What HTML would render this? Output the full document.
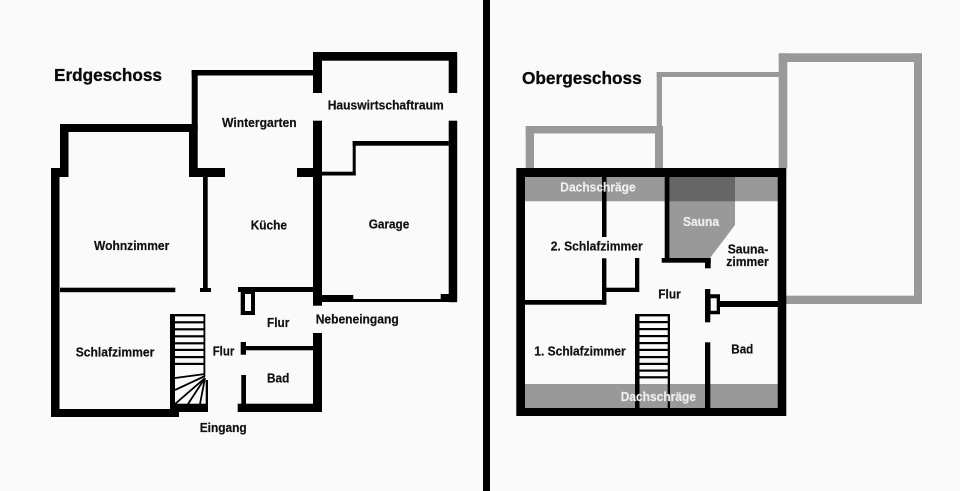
<!DOCTYPE html>
<html><head><meta charset="utf-8"><style>
html,body{margin:0;padding:0;background:#fbfafb}
svg{display:block}
text{font-family:"Liberation Sans",sans-serif;font-weight:bold;font-size:12.6px;fill:#111;stroke:#111;stroke-width:.2px}
.w{fill:#eee;stroke:#eee}
.t{font-size:17.2px;fill:#0a0a0a;stroke:#0a0a0a;stroke-width:.3px}
</style></head><body>
<svg width="960" height="491" viewBox="0 0 960 491" xmlns="http://www.w3.org/2000/svg">
<rect width="960" height="491" fill="#fbfafb"/>
<rect x="483" y="0" width="7" height="491" fill="#000"/>
<!-- Erdgeschoss walls -->
<g fill="#000">
<rect x="60" y="124" width="137" height="8"/>
<rect x="60" y="124" width="8.5" height="53"/>
<rect x="51" y="168" width="17.5" height="9"/>
<rect x="51" y="168" width="8.5" height="249"/>
<rect x="51" y="409" width="128" height="8"/>
<rect x="191.7" y="70" width="6" height="60"/>
<rect x="191.7" y="70" width="125" height="5.5"/>
<rect x="189" y="124" width="8.7" height="53"/>
<rect x="189" y="168" width="36" height="9"/>
<rect x="203" y="177" width="4.7" height="113"/>
<rect x="200" y="288" width="11" height="4"/>
<rect x="60" y="287.7" width="115.3" height="4.5"/>
<rect x="313" y="52" width="144" height="8.7"/>
<rect x="313" y="52" width="9" height="41"/>
<rect x="448.7" y="52" width="8.5" height="41"/>
<rect x="313" y="120.7" width="9" height="185"/>
<rect x="448.7" y="120.7" width="8.5" height="181.5"/>
<rect x="297" y="168" width="25" height="9"/>
<rect x="322" y="171.7" width="33.7" height="3.8"/>
<rect x="352.7" y="141" width="3" height="34.5"/>
<rect x="352.7" y="141" width="96" height="4.7"/>
<rect x="322" y="295" width="31.3" height="7"/>
<rect x="353" y="299" width="88" height="3"/>
<rect x="440.7" y="294" width="8.3" height="8"/>
<rect x="238" y="287" width="76" height="5"/>
<path d="M240.7 290H255V315H240.7ZM245 294V311H251V294Z" fill-rule="evenodd"/>
<rect x="313" y="333" width="9" height="79"/>
<rect x="245" y="346" width="68" height="4.3"/>
<rect x="240.7" y="342" width="5.3" height="12.7"/>
<rect x="241.3" y="375" width="4.7" height="30"/>
<rect x="237.7" y="403.7" width="84.3" height="8.3"/>
<!-- stairs EG -->
<rect x="170" y="314" width="5" height="96"/>
<rect x="170" y="314" width="35" height="2.4"/>
<rect x="203.5" y="314" width="1.8" height="62"/>
<rect x="205.7" y="380" width="2.3" height="25"/>
<rect x="175" y="403.7" width="33" height="8.3"/>
<rect x="175" y="321.2" width="29" height="2.2"/>
<rect x="175" y="328.2" width="29" height="2.2"/>
<rect x="175" y="335.2" width="29" height="2.2"/>
<rect x="175" y="342.2" width="29" height="2.2"/>
<rect x="175" y="348.8" width="29" height="2.2"/>
<rect x="175" y="356" width="29" height="2.2"/>
<rect x="175" y="362.8" width="29" height="2.2"/>
</g>
<g stroke="#000" stroke-width="1.8" fill="none">
<path d="M175 378L205 374M175 390L205 376M175 404L205 378M188 404L205 378M200 404L205 378"/>
</g>
<!-- Obergeschoss grey -->
<g fill="#999">
<rect x="525.7" y="126" width="8.3" height="43"/>
<rect x="525.7" y="126" width="137.3" height="7.5"/>
<rect x="655" y="126" width="8" height="43"/>
<rect x="656.7" y="72" width="5.3" height="55"/>
<rect x="656.7" y="72" width="123" height="5"/>
<rect x="778.7" y="53.3" width="8.6" height="115"/>
<rect x="778.7" y="53.3" width="143.3" height="8.7"/>
<rect x="914" y="53.3" width="8" height="250.7"/>
<rect x="786" y="295.7" width="136" height="8.3"/>
<rect x="525" y="177" width="253" height="24.3"/>
<rect x="525" y="384" width="253" height="24"/>
<polygon points="669,201 735,201 735,225 710,258 669,258"/>
</g>
<rect x="669" y="177" width="66" height="24.3" fill="#666"/>
<g fill="#000">
<path d="M516.3 168H786.3V416H516.3ZM525 177V408H777.7V177Z" fill-rule="evenodd"/>
<rect x="664.7" y="177" width="4.7" height="85"/>
<rect x="661.7" y="258" width="49" height="4.7"/>
<rect x="705" y="258" width="5.7" height="10.3"/>
<rect x="602" y="177" width="4.5" height="60"/>
<rect x="602" y="258.3" width="4.4" height="46.4"/>
<rect x="525" y="300" width="81" height="4.7"/>
<rect x="606" y="287.7" width="33" height="4.3"/>
<rect x="635" y="258" width="4.3" height="34"/>
<rect x="635" y="314" width="4.5" height="94"/>
<rect x="667.7" y="314" width="2.3" height="94"/>
<rect x="635" y="314" width="35" height="2.4"/>
<rect x="639" y="321" width="29" height="2.2"/>
<rect x="639" y="328" width="29" height="2.2"/>
<rect x="639" y="335" width="29" height="2.2"/>
<rect x="639" y="342" width="29" height="2.2"/>
<rect x="639" y="348.8" width="29" height="2.2"/>
<rect x="639" y="356" width="29" height="2.2"/>
<rect x="639" y="362.8" width="29" height="2.2"/>
<rect x="639" y="369.5" width="29" height="2.2"/>
<rect x="639" y="376.2" width="29" height="2.2"/>
<rect x="705" y="289" width="5.3" height="33.3"/>
<path d="M710 294.3H720V314.3H710ZM710.7 298.3V310.7H716.7V298.3Z" fill-rule="evenodd"/>
<rect x="720" y="301" width="58" height="6"/>
<rect x="705" y="342.3" width="5.3" height="66"/>
</g>
<!-- labels -->
<text class="t" x="54" y="81" textLength="108" lengthAdjust="spacingAndGlyphs">Erdgeschoss</text>
<text class="t" x="522" y="84" textLength="119.7" lengthAdjust="spacingAndGlyphs">Obergeschoss</text>
<text x="222" y="127" textLength="74.7" lengthAdjust="spacingAndGlyphs">Wintergarten</text>
<text x="327.7" y="109.3" textLength="116" lengthAdjust="spacingAndGlyphs">Hauswirtschaftraum</text>
<text x="250.7" y="229.3" textLength="36.3" lengthAdjust="spacingAndGlyphs">Küche</text>
<text x="368.7" y="228.7" textLength="40.6" lengthAdjust="spacingAndGlyphs">Garage</text>
<text x="94" y="250" textLength="75.3" lengthAdjust="spacingAndGlyphs">Wohnzimmer</text>
<text x="75.7" y="356.3" textLength="78.6" lengthAdjust="spacingAndGlyphs">Schlafzimmer</text>
<text x="212.7" y="355.3" textLength="21.6" lengthAdjust="spacingAndGlyphs">Flur</text>
<text x="199.7" y="432" textLength="47" lengthAdjust="spacingAndGlyphs">Eingang</text>
<text x="267" y="327" textLength="22.3" lengthAdjust="spacingAndGlyphs">Flur</text>
<text x="315.7" y="323.3" textLength="83" lengthAdjust="spacingAndGlyphs">Nebeneingang</text>
<text x="267" y="382.3" textLength="22.3" lengthAdjust="spacingAndGlyphs">Bad</text>
<text class="w" x="560.3" y="191.7" textLength="75.4" lengthAdjust="spacingAndGlyphs">Dachschräge</text>
<text class="w" x="683" y="226" textLength="36" lengthAdjust="spacingAndGlyphs">Sauna</text>
<text x="727.7" y="253.7" textLength="40.6" lengthAdjust="spacingAndGlyphs">Sauna-</text>
<text x="726.3" y="266" textLength="42.4" lengthAdjust="spacingAndGlyphs">zimmer</text>
<text x="658.3" y="298.3" textLength="22.4" lengthAdjust="spacingAndGlyphs">Flur</text>
<text x="550.7" y="250.3" textLength="92" lengthAdjust="spacingAndGlyphs">2. Schlafzimmer</text>
<text x="534.3" y="355.7" textLength="91.4" lengthAdjust="spacingAndGlyphs">1. Schlafzimmer</text>
<text class="w" x="620.7" y="401" textLength="75.3" lengthAdjust="spacingAndGlyphs">Dachschräge</text>
<text x="731.3" y="353.7" textLength="22" lengthAdjust="spacingAndGlyphs">Bad</text>
</svg>
</body></html>
